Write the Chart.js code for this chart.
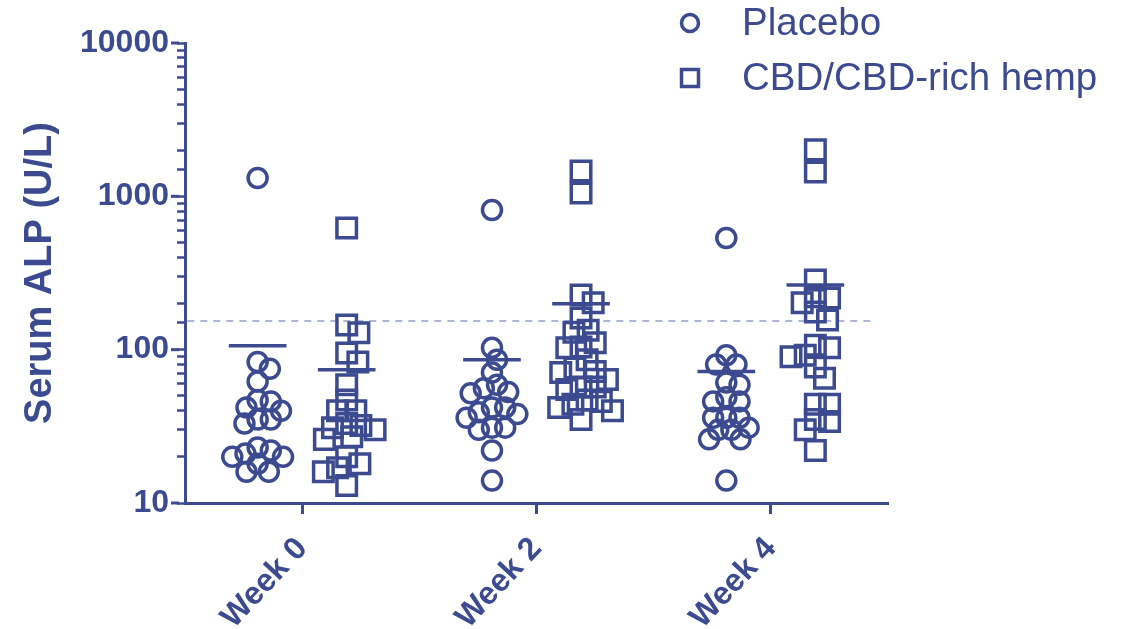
<!DOCTYPE html>
<html>
<head>
<meta charset="utf-8">
<script src="https://cdn.jsdelivr.net/npm/chart.js@4.4.1/dist/chart.umd.min.js"></script>
<style>
  html, body { margin: 0; padding: 0; background: #fff; }
</style>
</head>
<body>
<canvas id="myChart" width="1125" height="629"></canvas>
<script>
"use strict";

// data
const weeks = ["Week 0", "Week 2", "Week 4"];
const seriesNames = ["Placebo", "CBD/CBD-rich hemp"];

const placeboWeek0 = [1318, 83, 75, 62, 47, 46, 42, 40, 35, 35, 33, 23, 22, 21, 20, 20, 18, 16, 16];
const placeboWeek2 = [815, 103, 86, 71, 59, 56, 53, 52, 42, 42, 39, 38, 36, 31, 31, 30, 22, 14];
const placeboWeek4 = [535, 92, 80, 80, 61, 59, 49, 46, 46, 36, 36, 36, 31, 30, 30, 26, 26, 14];

const cbdWeek0 = [622, 145, 129, 95, 83, 59, 47, 40, 40, 33, 32, 31, 30, 27, 26, 20, 18, 17, 16, 13];
const cbdWeek2 = [1464, 1052, 227, 202, 161, 134, 130, 111, 104, 103, 86, 76, 72, 71, 64, 57, 57, 55, 47, 46, 44, 42, 40, 35];
const cbdWeek4 = [2009, 1443, 285, 221, 217, 202, 176, 156, 107, 103, 92, 90, 77, 65, 44, 44, 35, 34, 30, 22];

const placeboMean = [106, 86, 72];
const cbdMean = [74, 199, 264];

const upperLimit = 154;
const yTickLabels = [10, 100, 1000, 10000];

// look
const navy = "#3c4a8f";
const dashColor = "#aeb6d8";
const fontFamily = "'Liberation Sans', Arial, sans-serif";
const groupShift = 0.19;    // placebo left of the week tick, CBD right of it
const meanHalf = 0.123;
const PX_PER_DECADE = 153.3;
const PX_PER_UNIT = 231;

// simple beeswarm so that dots close in value spread sideways
function swarm(values, center, gap) {
  const placed = [];
  const out = new Array(values.length);
  values.map((v, i) => ({ v, i }))
    .sort((a, b) => b.v - a.v)
    .forEach(({ v, i }) => {
      const py = Math.log10(v) * PX_PER_DECADE;
      let dx = 0;
      for (let k = 0; k < 400; k++) {
        const cand = (k % 2 ? 1 : -1) * Math.ceil(k / 2);
        if (placed.every((p) => Math.hypot(p.x - cand, p.y - py) >= gap)) {
          dx = cand;
          break;
        }
      }
      placed.push({ x: dx, y: py });
      out[i] = { x: center + dx / PX_PER_UNIT, y: v };
    });
  return out;
}

const placeboPoints = [placeboWeek0, placeboWeek2, placeboWeek4]
  .flatMap((vals, w) => swarm(vals, w - groupShift, 13));
const cbdPoints = [cbdWeek0, cbdWeek2, cbdWeek4]
  .flatMap((vals, w) => swarm(vals, w + groupShift, 14));

function meanSegments(means, shift) {
  const pts = [];
  means.forEach((m, w) => {
    pts.push({ x: w + shift - meanHalf, y: m });
    pts.push({ x: w + shift + meanHalf, y: m });
    pts.push({ x: w + shift, y: null });
  });
  return pts;
}

const legendPlugin = {
  id: "sideLegend",
  afterDraw(chart) {
    const ctx = chart.ctx;
    const right = chart.chartArea.right;
    const items = [
      { text: seriesNames[0], style: "circle", radius: 8.5 },
      { text: seriesNames[1], style: "rect", radius: 12 }
    ];
    ctx.save();
    items.forEach((it, i) => {
      const y = 23 + i * 55;
      ctx.strokeStyle = navy;
      ctx.fillStyle = "rgba(0,0,0,0)";
      ctx.lineWidth = 3.5;
      Chart.helpers.drawPoint(ctx, { pointStyle: it.style, radius: it.radius, borderWidth: 3.5, rotation: 0 }, right - 198, y);
      ctx.fillStyle = navy;
      ctx.font = "38.5px " + fontFamily;
      ctx.textBaseline = "middle";
      ctx.textAlign = "left";
      ctx.fillText(it.text, right - 146, y + 1);
    });
    ctx.restore();
  }
};

// longer tick marks on the decades
const majorTicks = {
  id: "majorTicks",
  afterDraw(chart) {
    const s = chart.scales.y;
    const ctx = chart.ctx;
    ctx.save();
    ctx.strokeStyle = navy;
    ctx.lineWidth = 3;
    yTickLabels.forEach((v) => {
      const py = s.getPixelForValue(v);
      ctx.beginPath();
      ctx.moveTo(s.right - 14, py);
      ctx.lineTo(s.right - 6, py);
      ctx.stroke();
    });
    ctx.restore();
  }
};

Chart.defaults.font.family = fontFamily;
Chart.defaults.color = navy;

const config = {
  type: "scatter",
  data: {
    datasets: [
      {
        type: "line",
        label: "mean placebo",
        data: meanSegments(placeboMean, -groupShift),
        borderColor: navy,
        borderWidth: 3.5,
        pointRadius: 0,
        spanGaps: false,
        showLine: true
      },
      {
        type: "line",
        label: "mean cbd",
        data: meanSegments(cbdMean, groupShift),
        borderColor: navy,
        borderWidth: 3.5,
        pointRadius: 0,
        spanGaps: false,
        showLine: true
      },
      {
        label: seriesNames[0],
        data: placeboPoints,
        pointStyle: "circle",
        pointRadius: 9.5,
        pointBorderWidth: 3.5,
        borderColor: navy,
        backgroundColor: "rgba(0,0,0,0)"
      },
      {
        label: seriesNames[1],
        data: cbdPoints,
        pointStyle: "rect",
        pointRadius: 13.8,
        pointBorderWidth: 3.5,
        borderColor: navy,
        backgroundColor: "rgba(0,0,0,0)"
      },
      {
        type: "line",
        label: "upper limit",
        data: [{ x: -0.49, y: upperLimit }, { x: 2.43, y: upperLimit }],
        borderColor: dashColor,
        borderWidth: 2,
        borderDash: [7, 6],
        pointRadius: 0
      }
    ]
  },
  options: {
    responsive: false,
    animation: false,
    devicePixelRatio: 1,
    layout: { padding: { top: 43, right: 237, bottom: 0, left: 0 } },
    plugins: {
      legend: { display: false },
      tooltip: { enabled: false }
    },
    scales: {
      x: {
        type: "linear",
        min: -0.5,
        max: 2.5,
        afterBuildTicks: (s) => { s.ticks = [0, 1, 2].map((v) => ({ value: v })); },
        afterFit: (s) => { s.height = 126; },
        border: { color: navy, width: 3 },
        grid: { drawOnChartArea: false, tickLength: 11, tickWidth: 3, tickColor: navy },
        ticks: {
          minRotation: 47,
          maxRotation: 47,
          padding: 16,
          color: navy,
          font: { size: 32, weight: "bold" },
          callback: (v) => weeks[v]
        }
      },
      y: {
        type: "logarithmic",
        min: 10,
        max: 10000,
        afterFit: (s) => { s.width = 185; },
        border: { color: navy, width: 3 },
        grid: { drawOnChartArea: false, tickLength: 8, tickWidth: 2.5, tickColor: navy },
        title: {
          display: true,
          text: "Serum ALP (U/L)",
          color: navy,
          font: { size: 38, weight: "bold" },
          padding: { top: 18, bottom: 0 }
        },
        ticks: {
          autoSkip: false,
          padding: 8,
          color: navy,
          font: { size: 32, weight: "bold" },
          callback: (v) => (yTickLabels.includes(v) ? String(v) : "")
        }
      }
    }
  },
  plugins: [legendPlugin, majorTicks]
};

const chart = new Chart(document.getElementById("myChart"), config);
</script>
</body>
</html>
